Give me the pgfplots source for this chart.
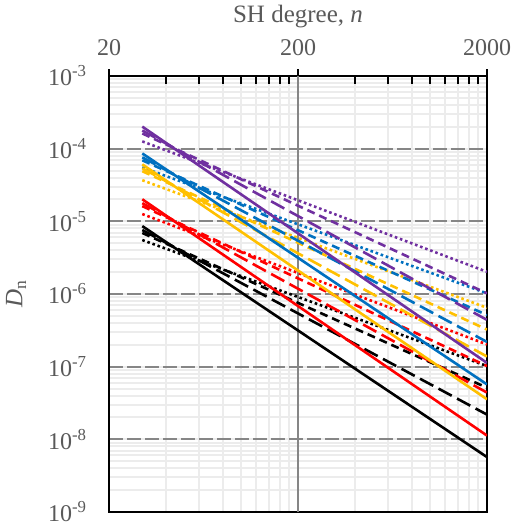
\documentclass[border=0pt]{standalone}
\usepackage{pgfplots}
\pgfplotsset{compat=1.18}
\usepackage{fontspec}
\setmainfont{Liberation Serif}
\definecolor{cpur}{RGB}{112,48,160}
\definecolor{cblu}{RGB}{0,112,192}
\definecolor{cyel}{RGB}{255,192,0}
\definecolor{cred}{RGB}{255,0,0}
\definecolor{ctxt}{RGB}{89,89,89}
\definecolor{cmin}{RGB}{236,236,236}
\definecolor{cmaj}{RGB}{134,134,134}
\tikzset{
  sol/.style={line width=2.6pt},
  ld/.style={line width=2.6pt, dash pattern=on 15pt off 6pt},
  ds/.style={line width=2.6pt, dash pattern=on 8pt off 5pt},
  dt/.style={line width=2.6pt, dash pattern=on 2.6pt off 2.8pt},
}
\begin{document}
\begin{tikzpicture}
\begin{axis}[
  name=ax,
  scale only axis, width=378pt, height=436pt,
  xmode=log, ymode=log,
  xmin=20, xmax=2000, ymin=1e-9, ymax=1e-3,
  xtick={20,200,2000}, xticklabels={20,200,2000},
  ytick={1e-9,1e-8,1e-7,1e-6,1e-5,1e-4,1e-3},
  yticklabels={10\textsuperscript{-9},10\textsuperscript{-8},10\textsuperscript{-7},10\textsuperscript{-6},10\textsuperscript{-5},10\textsuperscript{-4},10\textsuperscript{-3}},
  xticklabel pos=right,
  xtick pos=right,
  ytick pos=left,
  xminorticks=true,
  tick align=center,
  major tick length=14pt, minor tick length=8pt,
  tick style={draw=black, line width=2.2pt},
  minor x tick style={draw=black, line width=2.2pt, yshift=-4pt},
  ytick style={draw=none},
  minor y tick style={draw=none},
  xminorgrids, ymajorgrids, yminorgrids,
  major grid style={cmaj, line width=2pt, dash pattern=on 14pt off 4pt},
  minor grid style={cmin, line width=2pt, solid},
  axis line style={line width=2.5pt, black},
  tick label style={font=\fontsize{24}{28}\selectfont, text=ctxt},
  xticklabel style={yshift=10pt},
  yticklabel style={xshift=-12pt},
  xlabel={SH degree, \textit{n}},
  xlabel style={font=\fontsize{25}{28}\selectfont, text=ctxt, yshift=5pt},
  ylabel={\textit{D}\textsubscript{n}},
  ylabel style={font=\fontsize{25}{28}\selectfont, text=ctxt, yshift=15pt},
  clip=true,
]
\draw[cmaj, line width=2.5pt] (200,1e-9) -- (200,1e-3);
% dotted
\addplot[cpur, dt] coordinates {(30,1.26e-4) (2000,2.02e-6)};
\addplot[cblu, dt] coordinates {(30,5.53e-5) (2000,1.02e-6)};
\addplot[cyel, dt] coordinates {(30,3.68e-5) (2000,6.46e-7)};
\addplot[cred, dt] coordinates {(30,1.26e-5) (2000,2.02e-7)};
\addplot[black, dt] coordinates {(30,5.53e-6) (2000,1.02e-7)};
% dashed
\addplot[cpur, ds] coordinates {(30,1.62e-4) (2000,1.02e-6)};
\addplot[cblu, ds] coordinates {(30,6.92e-5) (2000,5.13e-7)};
\addplot[cyel, ds] coordinates {(30,4.90e-5) (2000,3.24e-7)};
\addplot[cred, ds] coordinates {(30,1.62e-5) (2000,1.02e-7)};
\addplot[black, ds] coordinates {(30,6.92e-6) (2000,5.13e-8)};
% long dash
\addplot[cpur, ld] coordinates {(30,1.78e-4) (2000,4.40e-7)};
\addplot[cblu, ld] coordinates {(30,7.59e-5) (2000,2.19e-7)};
\addplot[cyel, ld] coordinates {(30,5.37e-5) (2000,1.38e-7)};
\addplot[cred, ld] coordinates {(30,1.78e-5) (2000,4.40e-8)};
\addplot[black, ld] coordinates {(30,7.59e-6) (2000,2.19e-8)};
% solid
\addplot[cpur, sol] coordinates {(30,2.01e-4) (2000,1.127e-7)};
\addplot[cblu, sol] coordinates {(30,8.59e-5) (2000,5.70e-8)};
\addplot[cyel, sol] coordinates {(30,6.08e-5) (2000,3.56e-8)};
\addplot[cred, sol] coordinates {(30,2.01e-5) (2000,1.127e-8)};
\addplot[black, sol] coordinates {(30,8.59e-6) (2000,5.70e-9)};
\end{axis}
\path[use as bounding box] ([shift={(-109pt,-14pt)}]ax.south west) rectangle ([shift={(23pt,76pt)}]ax.north east);
\end{tikzpicture}
\end{document}
